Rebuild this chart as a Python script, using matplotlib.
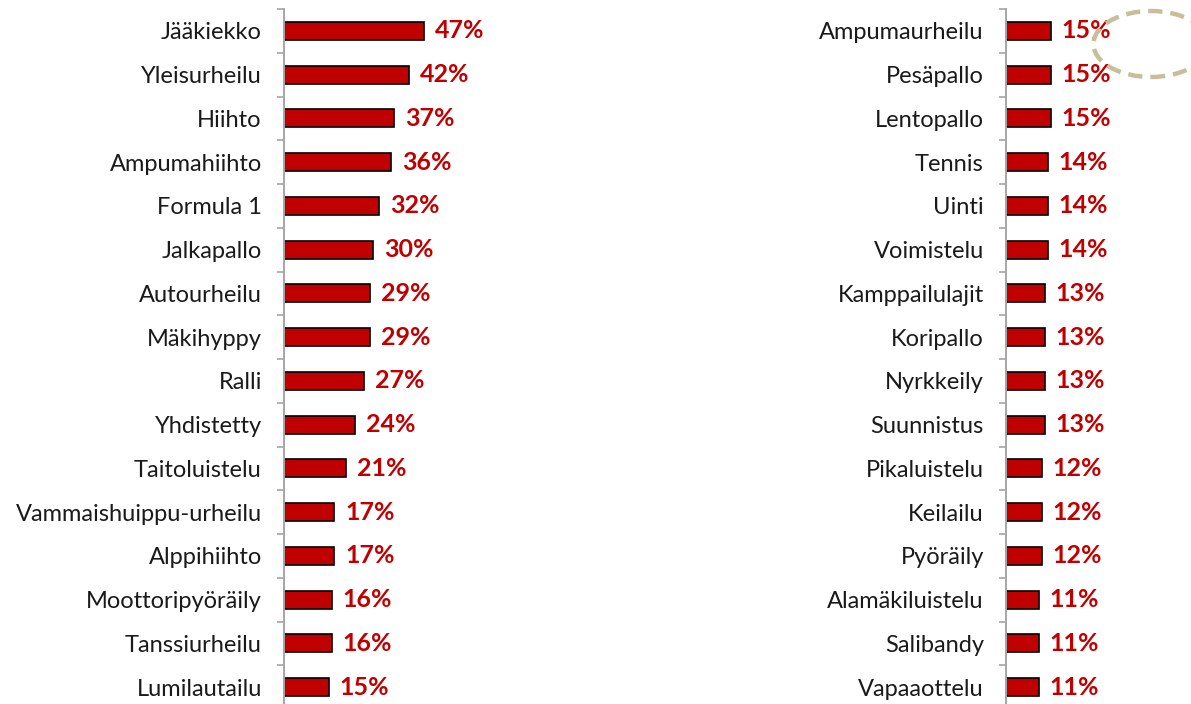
import matplotlib
matplotlib.use("Agg")
import matplotlib.pyplot as plt
from matplotlib.patches import Ellipse
from matplotlib.ticker import FixedLocator

left_cats = ["Jääkiekko", "Yleisurheilu", "Hiihto", "Ampumahiihto", "Formula 1",
             "Jalkapallo", "Autourheilu", "Mäkihyppy", "Ralli", "Yhdistetty",
             "Taitoluistelu", "Vammaishuippu-urheilu", "Alppihiihto",
             "Moottoripyöräily", "Tanssiurheilu", "Lumilautailu"]
left_vals = [47, 42, 37, 36, 32, 30, 29, 29, 27, 24, 21, 17, 17, 16, 16, 15]

right_cats = ["Ampumaurheilu", "Pesäpallo", "Lentopallo", "Tennis", "Uinti",
              "Voimistelu", "Kamppailulajit", "Koripallo", "Nyrkkeily",
              "Suunnistus", "Pikaluistelu", "Keilailu", "Pyöräily",
              "Alamäkiluistelu", "Salibandy", "Vapaaottelu"]
right_vals = [15, 15, 15, 14, 14, 14, 13, 13, 13, 13, 12, 12, 12, 11, 11, 11]

W, H = 1191, 704
fig = plt.figure(figsize=(W / 100, H / 100), dpi=100)
plt.rcParams['font.family'] = ['Lato', 'DejaVu Sans']

SCALE = 2.97  # px per percent
RED = "#C00000"
top_px, bot_px = 9, 709


def panel(x0_px, width_px, cats, vals):
    ax = fig.add_axes([x0_px / W, (H - bot_px) / H, width_px / W, (bot_px - top_px) / H])
    n = len(cats)
    ys = list(range(n))
    ax.barh(ys, vals, height=0.41, color=RED, edgecolor="black", linewidth=1.2)
    ax.set_xlim(0, width_px / SCALE)
    ax.set_ylim(n - 0.5, -0.5)
    for y, v in zip(ys, vals):
        ax.annotate(f"{v}%", xy=(v, y), xytext=(11, 0), textcoords="offset pixels",
                    ha="left", va="center", color=RED, fontsize=18, fontweight="bold",
                    annotation_clip=False)
    ax.set_yticks(ys)
    ax.set_yticklabels(cats, fontsize=17, color="#1a1a1a")
    ax.tick_params(axis="y", which="major", length=0, pad=16)
    ax.yaxis.set_minor_locator(FixedLocator([i - 0.5 for i in range(n + 1)]))
    ax.tick_params(axis="y", which="minor", length=5, color="#A6A6A6", width=1.2)
    ax.set_xticks([])
    for s in ["top", "right", "bottom"]:
        ax.spines[s].set_visible(False)
    ax.spines["left"].set_color("#A6A6A6")
    ax.spines["left"].set_linewidth(1.4)
    ax.patch.set_alpha(0)
    return ax


panel(284, 280, left_cats, left_vals)
panel(1006, 180, right_cats, right_vals)

ell = Ellipse((1151 / 100, (H - 44) / 100), 1.15, 0.66, transform=fig.dpi_scale_trans,
              fill=False, edgecolor="#C8BE9A", linewidth=3.2, linestyle=(0, (3.2, 1.8)))
fig.add_artist(ell)

fig.savefig("out.png", dpi=100)
